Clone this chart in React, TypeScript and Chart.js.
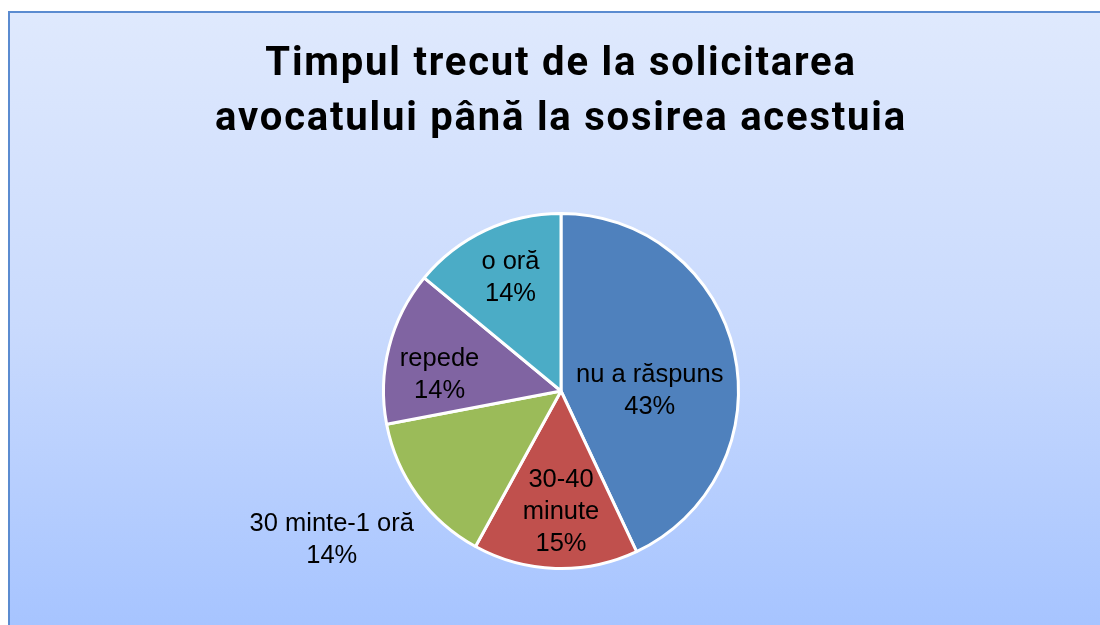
import React, { useEffect, useRef } from "react";
import { Chart, registerables } from "chart.js";

Chart.register(...registerables);

const titleLines = ["Timpul trecut de la solicitarea", "avocatului până la sosirea acestuia"];
const categories = ["nu a răspuns", "30-40 minute", "30 minte-1 oră", "repede", "o oră"];
const labelLines = [["nu a răspuns"], ["30-40", "minute"], ["30 minte-1 oră"], ["repede"], ["o oră"]];
const values = [43, 15, 14, 14, 14];
const colors = ["#4f81bd", "#c0504d", "#9bbb59", "#8064a2", "#4bacc6"];
// label placement: radius factor and angle shift (deg) from slice mid-angle
const labelRadius = [0.5, 0.68, 1.54, 0.69, 0.7];
const labelShift = [12.6, -1.8, 3, -7, 1.2];

const W = 1090;
const H = 612;

const spacingPlugin = {
  id: "titleSpacing",
  beforeDraw(chart: any) {
    chart.ctx.letterSpacing = "1.8px";
  },
  beforeDatasetsDraw(chart: any) {
    chart.ctx.letterSpacing = "0px";
  },
};

const labelPlugin = {
  id: "sliceLabels",
  afterDatasetsDraw(chart: any) {
    const ctx = chart.ctx;
    const meta = chart.getDatasetMeta(0);
    const total = values.reduce((a, b) => a + b, 0);
    ctx.save();
    ctx.letterSpacing = "0px";
    ctx.font = '25.5px "Liberation Sans", Arial, sans-serif';
    ctx.fillStyle = "#000";
    ctx.textAlign = "center";
    ctx.textBaseline = "middle";
    meta.data.forEach((arc: any, i: number) => {
      const p = arc.getProps(["x", "y", "startAngle", "endAngle", "outerRadius"], true);
      const mid = (p.startAngle + p.endAngle) / 2 + (labelShift[i] * Math.PI) / 180;
      const r = p.outerRadius * labelRadius[i];
      const cx = p.x + Math.cos(mid) * r;
      const cy = p.y + Math.sin(mid) * r;
      const lines = [...labelLines[i], Math.round((values[i] / total) * 100) + "%"];
      const lh = 32;
      const y0 = cy - ((lines.length - 1) * lh) / 2;
      lines.forEach((t, k) => ctx.fillText(t, cx, y0 + k * lh));
    });
    ctx.restore();
  },
};

export default function App() {
  const ref = useRef<HTMLCanvasElement>(null);
  useEffect(() => {
    if (!ref.current) return;
    const cy = 378;
    const R = 179;
    const chart = new Chart(ref.current, {
      type: "pie",
      data: {
        labels: categories,
        datasets: [
          {
            data: values,
            backgroundColor: colors,
            borderColor: "#ffffff",
            borderWidth: 3,
          },
        ],
      },
      options: {
        responsive: false,
        animation: false,
        layout: {
          padding: { left: 12, right: 0, top: 0, bottom: H - (cy + R) },
        },
        plugins: {
          legend: { display: false },
          tooltip: { enabled: false },
          title: {
            display: true,
            text: titleLines,
            color: "#000",
            font: { family: "Roboto, 'Open Sans', sans-serif", size: 40, weight: "bold", lineHeight: 55 / 40 },
            padding: { top: 24, bottom: cy - R - 24 - 110 },
          },
        },
      },
      plugins: [spacingPlugin, labelPlugin],
    });
    return () => chart.destroy();
  }, []);
  return (
    <div
      style={{
        position: "fixed",
        left: 8,
        top: 11,
        width: 1110,
        height: 630,
        boxSizing: "border-box",
        border: "2px solid #5b8bd0",
        background: "linear-gradient(to bottom, #dfe9fd 0%, #c9dafd 50%, #a5c3ff 100%)",
      }}
    >
      <canvas ref={ref} width={W} height={H} style={{ display: "block", width: W, height: H }} />
    </div>
  );
}
